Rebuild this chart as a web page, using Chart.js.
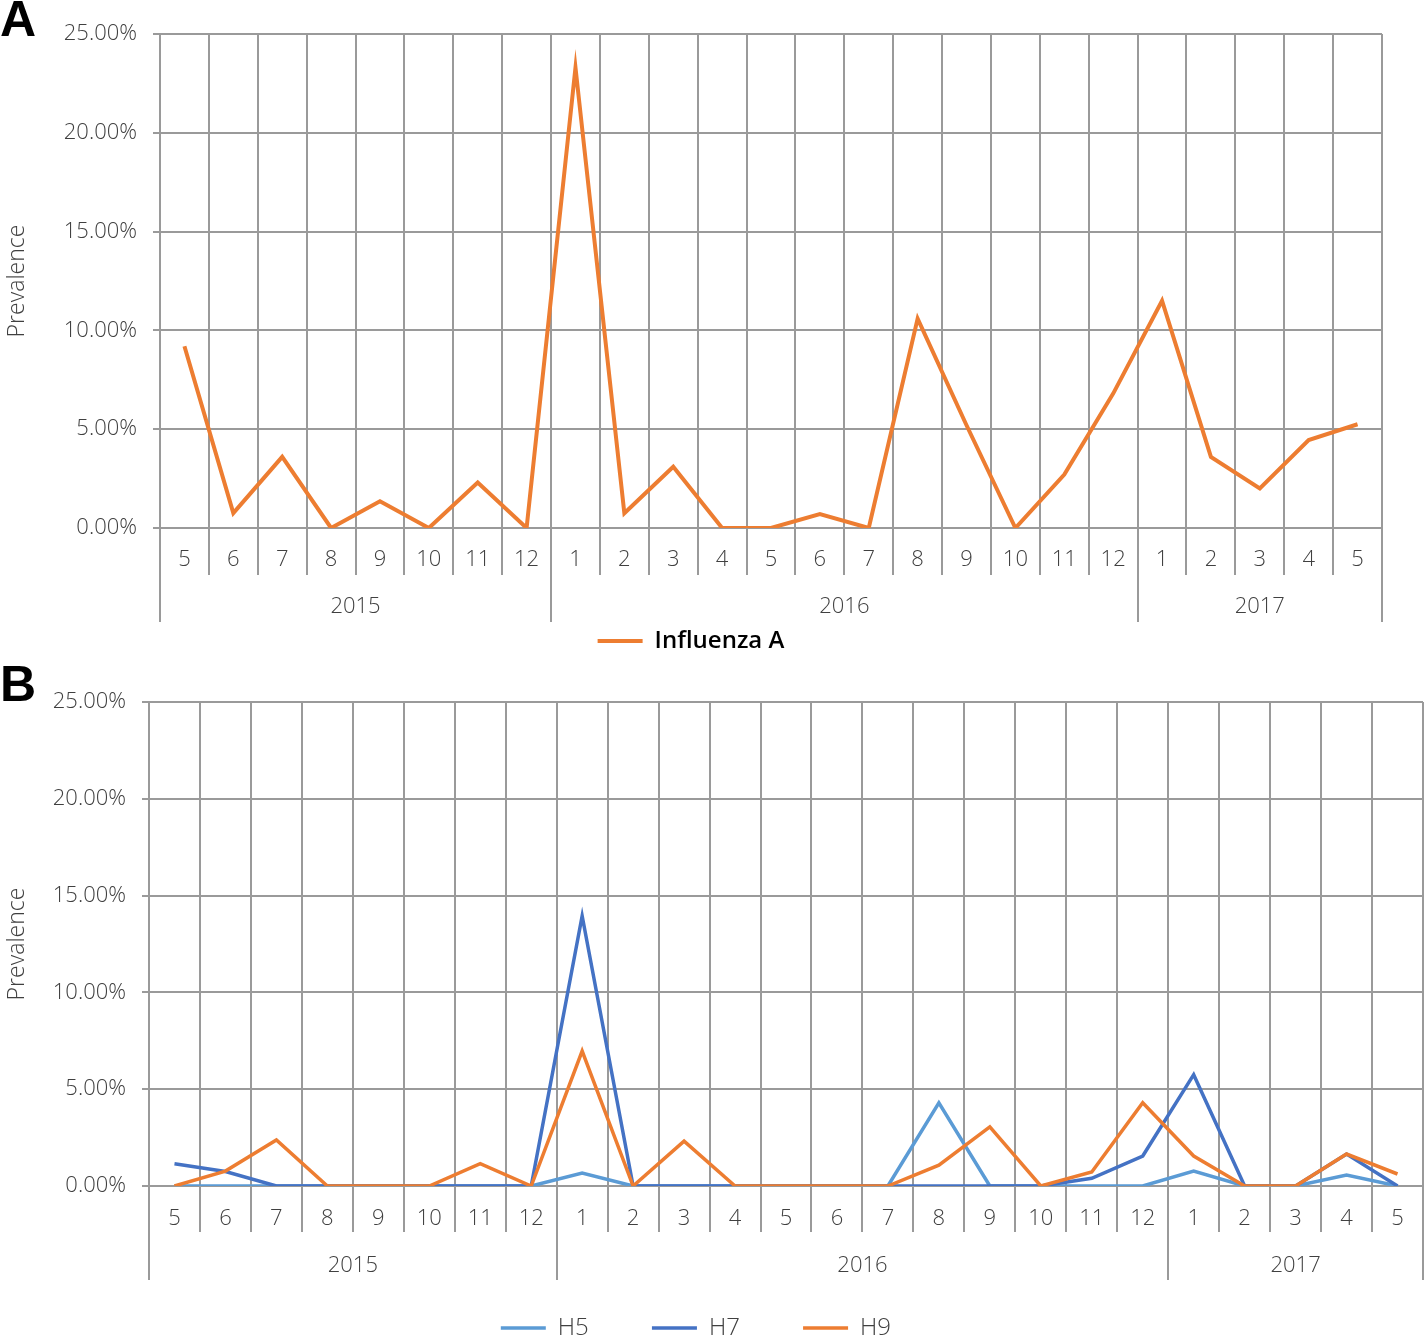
<!DOCTYPE html>
<html>
<head>
<meta charset="utf-8">
<script src="https://cdn.jsdelivr.net/npm/chart.js@4.4.1/dist/chart.umd.min.js"></script>
<style>
  html, body { margin: 0; padding: 0; background: #fff; }
  body { width: 1424px; height: 1338px; position: relative; overflow: hidden; }
  canvas { position: absolute; left: 0; }
  #chartA { top: 0; }
  #chartB { top: 660px; }
  .tag { position: absolute; left: 0; font: bold 50px Arial, 'Liberation Sans', sans-serif; color: #000; line-height: 1; }
</style>
</head>
<body>
<canvas id="chartA" width="1424" height="663"></canvas>
<canvas id="chartB" width="1424" height="690"></canvas>
<div class="tag" style="top:-6px">A</div>
<div class="tag" style="top:659px">B</div>
<script>
// months from May 2015 to May 2017
const months = ['5', '6', '7', '8', '9', '10', '11', '12', '1', '2', '3', '4', '5', '6', '7', '8', '9', '10', '11', '12', '1', '2', '3', '4', '5'];
const years = ['2015', '2016', '2017'];
const yearSpans = [8, 12, 5];
const yTicks = [0, 5, 10, 15, 20, 25];

// prevalence, %
const influenzaA = [9.2, 0.75, 3.6, 0, 1.35, 0, 2.3, 0, 23.3, 0.75, 3.1, 0, 0, 0.7, 0, 10.6, 5.2, 0, 2.7, 6.8, 11.5, 3.6, 2.0, 4.45, 5.25];
const h5 = [0, 0, 0, 0, 0, 0, 0, 0, 0.67, 0, 0, 0, 0, 0, 0, 4.3, 0, 0, 0, 0, 0.77, 0, 0, 0.57, 0];
const h7 = [1.15, 0.75, 0, 0, 0, 0, 0, 0, 13.95, 0, 0, 0, 0, 0, 0, 0, 0, 0, 0.4, 1.55, 5.75, 0, 0, 1.65, 0];
const h9 = [0, 0.77, 2.38, 0, 0, 0, 1.15, 0, 6.97, 0, 2.32, 0, 0, 0, 0, 1.08, 3.05, 0, 0.72, 4.3, 1.55, 0, 0, 1.65, 0.62];

const colors = {
  orange: '#ED7D31',
  lightBlue: '#5B9BD5',
  blue: '#4472C4',
  grid: '#9a9a9a',
  text: '#404040',
};

const FONT = "'Open Sans', 'DejaVu Sans', sans-serif";

// year boundaries and centres on a linear axis that matches the category scale
const yearBounds = [-0.5];
const yearCentres = [];
yearSpans.forEach((n) => {
  const start = yearBounds[yearBounds.length - 1];
  yearCentres.push(start + n / 2);
  yearBounds.push(start + n);
});

function lineSet(label, data, color, order, width) {
  return {
    label,
    data,
    borderColor: color,
    backgroundColor: color,
    borderWidth: width,
    pointRadius: 0,
    tension: 0,
    order,
  };
}

function makeChart(id, datasets, cfg) {
  const tickFont = { family: FONT, size: 22, weight: '300' };
  return new Chart(document.getElementById(id), {
    type: 'line',
    data: { labels: months, datasets },
    options: {
      responsive: false,
      devicePixelRatio: 1,
      animation: false,
      layout: { padding: { top: cfg.top, right: cfg.right, bottom: 0, left: 0 } },
      plugins: {
        tooltip: { enabled: false },
        legend: {
          position: 'bottom',
          labels: {
            usePointStyle: true,
            pointStyle: 'line',
            pointStyleWidth: 45,
            padding: cfg.legendPadding,
            color: cfg.legendColor,
            font: { family: FONT, size: 24, weight: cfg.legendWeight },
            sort: (a, b) => a.datasetIndex - b.datasetIndex,
            // extra room after each entry, the legend items sit far apart
            generateLabels: (chart) => Chart.defaults.plugins.legend.labels.generateLabels(chart)
              .map((item) => ({ ...item, text: item.text + cfg.legendGap })),
          },
        },
      },
      scales: {
        x: {
          type: 'category',
          offset: true,
          afterFit: (s) => { s.height = cfg.monthTick; },
          grid: { offset: true, color: colors.grid, lineWidth: 2, tickLength: cfg.monthTick },
          border: { display: false },
          ticks: { autoSkip: false, maxRotation: 0, padding: cfg.monthPad, color: colors.text, font: tickFont },
        },
        year: {
          type: 'linear',
          axis: 'x',
          position: 'bottom',
          min: -0.5,
          max: months.length - 0.5,
          afterBuildTicks: (s) => {
            s.ticks = [...yearBounds, ...yearCentres].sort((a, b) => a - b).map((v) => ({ value: v }));
          },
          afterFit: (s) => { s.height = cfg.yearBox; },
          grid: {
            drawOnChartArea: false,
            tickLength: cfg.yearTick,
            lineWidth: 2,
            color: (ctx) => (ctx.tick && yearBounds.includes(ctx.tick.value) ? colors.grid : 'transparent'),
          },
          border: { display: false },
          ticks: {
            autoSkip: false,
            maxRotation: 0,
            padding: cfg.yearPad,
            color: colors.text,
            font: tickFont,
            callback: (v) => {
              const i = yearCentres.indexOf(v);
              return i >= 0 ? years[i] : '';
            },
          },
        },
        y: {
          min: yTicks[0],
          max: yTicks[yTicks.length - 1],
          afterBuildTicks: (s) => { s.ticks = yTicks.map((v) => ({ value: v })); },
          afterFit: (s) => { s.width = cfg.left; },
          grid: { color: colors.grid, lineWidth: 2, tickLength: 7 },
          border: { display: false },
          ticks: { padding: 16, color: colors.text, font: tickFont, callback: (v) => v.toFixed(2) + '%' },
          title: {
            display: true,
            text: 'Prevalence',
            color: colors.text,
            font: { family: FONT, size: 23, weight: '300' },
            padding: { top: 4, bottom: 0 },
          },
        },
      },
    },
  });
}

makeChart('chartA', [lineSet('Influenza A', influenzaA, colors.orange, 1, 4)], {
  top: 34, right: 42, left: 160,
  monthTick: 47, monthPad: -28, yearTick: 47, yearBox: 47, yearPad: -28,
  legendPadding: 7, legendGap: '', legendColor: '#000', legendWeight: '600',
});

makeChart('chartB', [
  lineSet('H5', h5, colors.lightBlue, 3, 3.5),
  lineSet('H7', h7, colors.blue, 2, 3.5),
  lineSet('H9', h9, colors.orange, 1, 3.5),
], {
  top: 42, right: 1, left: 149,
  monthTick: 46, monthPad: -26, yearTick: 48, yearBox: 52, yearPad: -27,
  legendPadding: 32, legendGap: '     ', legendColor: colors.text, legendWeight: '300',
});
</script>
</body>
</html>
